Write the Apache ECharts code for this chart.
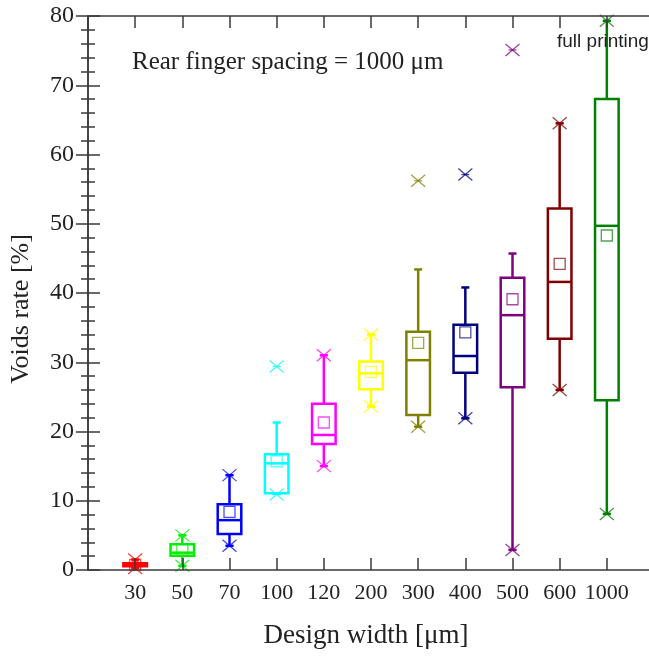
<!DOCTYPE html>
<html>
<head>
<meta charset="utf-8">
<title>Voids rate vs design width</title>
<script src="https://cdn.jsdelivr.net/npm/echarts@6/dist/echarts.min.js"></script>
<style>
  html, body { margin: 0; padding: 0; background: #fff; }
  #chart { width: 649px; height: 656px; }
</style>
</head>
<body>
<div id="chart"></div>
<script>
// design widths (um)
const categories = ['30', '50', '70', '100', '120', '200', '300', '400', '500', '600', '1000'];

// box statistics (voids rate, %)
const whiskerLow  = [0.3, 0.6, 3.5, 11.0, 15.0, 23.6, 20.7, 21.9, 2.9, 26.0, 8.1];
const q1          = [0.55, 2.05, 5.2, 11.1, 18.2, 26.1, 22.4, 28.5, 26.4, 33.4, 24.5];
const median      = [0.75, 2.5, 7.2, 15.4, 19.5, 28.4, 30.3, 30.9, 36.8, 41.6, 49.7];
const q3          = [0.98, 3.73, 9.5, 16.7, 24.0, 30.1, 34.4, 35.4, 42.2, 52.2, 68.0];
const whiskerHigh = [1.5, 5.0, 13.7, 21.3, 31.0, 34.0, 43.4, 40.8, 45.7, 64.5, 79.3];
const mean        = [0.75, 2.9, 8.4, 15.7, 21.3, 28.6, 32.8, 34.3, 39.1, 44.2, 48.3];
const starLow     = [0.3, 0.6, 3.5, 10.9, 15.0, 23.6, 20.7, 21.9, 2.9, 26.0, 8.1];
const starHigh    = [1.5, 5.0, 13.7, 29.4, 31.0, 34.0, 56.2, 57.1, 75.1, 64.5, 79.3];

// y axis ticks
const yMin = 0, yMax = 80, yStep = 10;

const colors = ['#ff0000', '#00ee00', '#0000ff', '#00ffff', '#ff00ff', '#ffff00',
                '#808000', '#000080', '#800080', '#800000', '#008000'];

const serif = '"Liberation Serif", "Times New Roman", serif';
const axisColor = '#3a3a3a';

const boxData = categories.map((c, i) => [
    i + 1, whiskerLow[i], q1[i], median[i], q3[i], whiskerHigh[i], mean[i], starLow[i], starHigh[i]
]);

function star(cx, cy, color) {
    const s = { stroke: color, lineWidth: 1.3, opacity: 0.75 };
    return [
        { type: 'line', shape: { x1: cx - 7, y1: cy - 6, x2: cx + 7, y2: cy + 6 }, style: s },
        { type: 'line', shape: { x1: cx - 7, y1: cy + 6, x2: cx + 7, y2: cy - 6 }, style: s },
        { type: 'line', shape: { x1: cx - 4, y1: cy, x2: cx + 4, y2: cy }, style: s }
    ];
}

function renderBox(params, api) {
    const idx = api.value(0);
    const color = colors[params.dataIndex];
    const x = api.coord([idx, 0])[0];
    const y = k => api.coord([idx, api.value(k)])[1];
    const half = api.size([0.25, 0])[0];
    const cap = 4;
    const lw = 2.5;
    const st = { stroke: color, lineWidth: lw, fill: null };

    const yLo = y(1), yQ1 = y(2), yMed = y(3), yQ3 = y(4), yHi = y(5), yMean = y(6);
    const children = [
        { type: 'line', shape: { x1: x, y1: yQ1, x2: x, y2: yLo }, style: st },
        { type: 'line', shape: { x1: x, y1: yQ3, x2: x, y2: yHi }, style: st },
        { type: 'line', shape: { x1: x - cap, y1: yLo, x2: x + cap, y2: yLo }, style: st },
        { type: 'line', shape: { x1: x - cap, y1: yHi, x2: x + cap, y2: yHi }, style: st },
        { type: 'rect', shape: { x: x - half, y: yQ3, width: half * 2, height: yQ1 - yQ3 }, style: st },
        { type: 'line', shape: { x1: x - half, y1: yMed, x2: x + half, y2: yMed }, style: st },
        { type: 'rect', shape: { x: x - 5.5, y: yMean - 5.5, width: 11, height: 11 },
          style: { stroke: color, lineWidth: 1.3, fill: null, opacity: 0.7 } }
    ];
    return {
        type: 'group',
        children: children.concat(star(x, y(7), color), star(x, y(8), color))
    };
}

const chart = echarts.init(document.getElementById('chart'), null, { renderer: 'canvas' });

const xCommon = {
    type: 'value',
    min: 0,
    max: categories.length + 1,
    interval: 1,
    z: 3,
    axisLine: { show: true, onZero: false, lineStyle: { color: axisColor, width: 1.5 } },
    axisTick: { show: true, inside: true, length: 12, lineStyle: { color: axisColor, width: 1.5 } },
    splitLine: { show: false }
};

const yCommon = {
    type: 'value',
    min: yMin,
    max: yMax,
    interval: yStep,
    axisLine: { show: true, lineStyle: { color: axisColor, width: 1.5 } },
    axisTick: { show: true, inside: true, length: 12, lineStyle: { color: axisColor, width: 1.5 } },
    minorTick: { show: true, splitNumber: 5, length: 7, lineStyle: { color: axisColor, width: 1.5 } },
    splitLine: { show: false },
    minorSplitLine: { show: false }
};

chart.setOption({
    animation: false,
    backgroundColor: '#fff',
    grid: { left: 88, top: 16, width: 566, height: 554, containLabel: false, outerBoundsMode: 'none' },
    xAxis: [
        Object.assign({}, xCommon, {
            position: 'bottom',
            name: 'Design width [\u03bcm]',
            nameLocation: 'middle',
            nameGap: 52,
            nameTextStyle: { fontFamily: serif, fontSize: 27, color: '#222', padding: [0, 10, 0, 0] },
            axisLabel: {
                show: true,
                margin: 12,
                fontFamily: serif,
                fontSize: 22,
                color: '#222',
                formatter: v => (Number.isInteger(v) && v >= 1 && v <= categories.length) ? categories[v - 1] : ''
            }
        }),
        Object.assign({}, xCommon, { position: 'top', axisLabel: { show: false } })
    ],
    yAxis: [
        Object.assign({}, yCommon, {
            position: 'left',
            name: 'Voids rate [%]',
            nameLocation: 'middle',
            nameGap: 54,
            nameTextStyle: { fontFamily: serif, fontSize: 26, color: '#222', padding: [0, 32, 0, 0] },
            axisLabel: { show: true, margin: 14, fontFamily: serif, fontSize: 24, color: '#222' }
        }),
        Object.assign({}, yCommon, { position: 'right', axisLabel: { show: false } })
    ],
    graphic: [
        {
            type: 'text', x: 132, y: 50,
            style: { text: 'Rear finger spacing = 1000 \u03bcm', font: '25px ' + serif, fill: '#222', verticalAlign: 'top' }
        },
        {
            type: 'text', x: 557, y: 32, z: 10,
            style: { text: 'full printing', font: '19px "Liberation Sans", Arial, sans-serif', fill: '#222', verticalAlign: 'top' }
        }
    ],
    series: [{
        type: 'custom',
        xAxisIndex: 0,
        yAxisIndex: 0,
        clip: false,
        renderItem: renderBox,
        encode: { x: 0, y: [1, 2, 3, 4, 5] },
        data: boxData
    }]
});
</script>
</body>
</html>
